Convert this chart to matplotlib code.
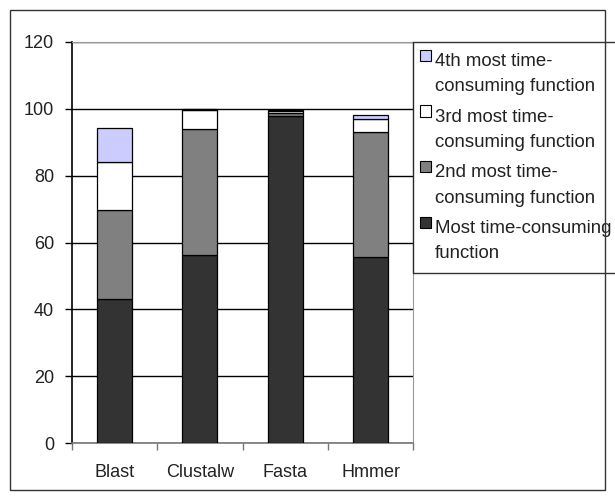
import matplotlib
matplotlib.use("Agg")
import matplotlib.pyplot as plt
import matplotlib.patches as mpatches
from matplotlib.legend_handler import HandlerBase
import numpy as np

plt.rcParams['font.family'] = ['Liberation Sans', 'DejaVu Sans']

programs = ["Blast", "Clustalw", "Fasta", "Hmmer"]
most = [43.1, 56.3, 97.9, 55.8]
second = [26.7, 37.7, 0.8, 37.4]
third = [14.4, 5.7, 0.6, 3.7]
fourth = [10.2, 0.3, 0.4, 1.3]
series_names = ["Most time-consuming\nfunction",
                "2nd most time-\nconsuming function",
                "3rd most time-\nconsuming function",
                "4th most time-\nconsuming function"]
series_colors = ["#333333", "#808080", "#ffffff", "#ccccff"]
yticks = [0, 20, 40, 60, 80, 100, 120]


class FirstLineSquare(HandlerBase):
    # legend swatch lined up with the first text line instead of the last one
    def __init__(self, line_pitch, dx=0.0):
        super().__init__()
        self.line_pitch = line_pitch
        self.dx = dx

    def create_artists(self, legend, orig_handle, xdescent, ydescent,
                       width, height, fontsize, trans):
        r = mpatches.Rectangle((-xdescent + self.dx, -ydescent + self.line_pitch),
                               width, height,
                               facecolor=orig_handle.get_facecolor(),
                               edgecolor="black", linewidth=0.8, transform=trans)
        return [r]


fig = plt.figure(figsize=(6.15, 5.0), dpi=100)
ax = fig.add_axes([0.117, 0.114, 0.555, 0.802])

x = np.arange(len(programs))
bottom = np.zeros(len(programs))
swatches = []
for vals, name, col in zip([most, second, third, fourth], series_names, series_colors):
    ax.bar(x, vals, 0.41, bottom=bottom, color=col, edgecolor="black",
           linewidth=0.9, zorder=3)
    bottom += np.array(vals)
    swatches.append(mpatches.Rectangle((0, 0), 1, 1, facecolor=col))

ax.set_xlim(-0.5, 3.5)
ax.set_ylim(0, 120)
ax.set_yticks(yticks)
ax.set_yticklabels([str(v) for v in yticks], fontsize=13, color="#222222")
ax.yaxis.grid(True, color="black", linewidth=1.0, zorder=0)
ax.tick_params(axis="y", direction="out", length=5, width=1, color="black", pad=8)

# category labels in the middle, tick marks on the boundaries
ax.set_xticks(np.arange(-0.5, 4.0, 1.0))
ax.set_xticklabels([])
ax.tick_params(axis="x", which="major", direction="out", length=5, width=1, color="#777777")
ax.set_xticks(x, minor=True)
ax.set_xticklabels(programs, minor=True, fontsize=13, color="#222222")
ax.tick_params(axis="x", which="minor", length=0, pad=15)

ax.spines["left"].set_color("black")
ax.spines["left"].set_linewidth(1.2)
ax.spines["bottom"].set_color("#777777")
ax.spines["bottom"].set_linewidth(1.2)
ax.spines["top"].set_color("#999999")
ax.spines["right"].set_color("#999999")

leg = ax.legend(swatches[::-1], series_names[::-1], loc="upper left",
                bbox_to_anchor=(1.0, 1.0), fontsize=13.4, frameon=True,
                fancybox=False, edgecolor="black", handlelength=0.55,
                handleheight=0.55, handletextpad=0.0, labelspacing=0.73,
                borderpad=0.6, borderaxespad=0.0, labelcolor="#222222",
                handler_map={mpatches.Rectangle: FirstLineSquare(13.5, dx=-3.0)})
leg.get_frame().set_linewidth(1.0)
for t in leg.get_texts():
    t.set_linespacing(1.62)

# outer chart border
fig.patches.append(mpatches.Rectangle((10 / 615, 10 / 500), 595 / 615, 480 / 500,
                                      transform=fig.transFigure, fill=False,
                                      edgecolor="#333333", linewidth=1.0))

fig.savefig("out.png", dpi=100)
